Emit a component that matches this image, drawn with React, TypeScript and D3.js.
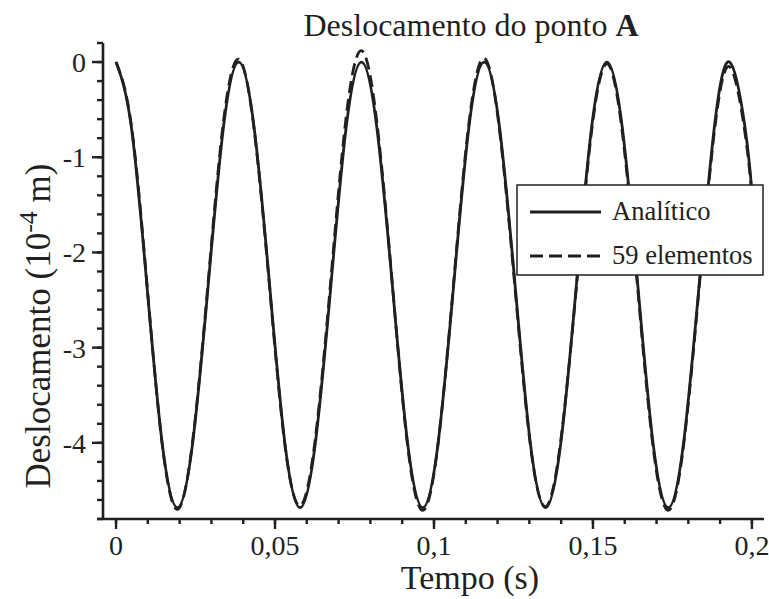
import React from "react";
import * as d3 from "d3";

// Time samples (s)
const tempo = [
  0, 0.0048, 0.0097, 0.0145, 0.0193, 0.0241, 0.029, 0.0338, 0.0386, 0.0434,
  0.0483, 0.0531, 0.0579, 0.0627, 0.0676, 0.0724, 0.0772, 0.082, 0.0869,
  0.0917, 0.0965, 0.1013, 0.1062, 0.111, 0.1158, 0.1206, 0.1255, 0.1303,
  0.1351, 0.1399, 0.1448, 0.1496, 0.1544, 0.1592, 0.1641, 0.1689, 0.1737,
  0.1785, 0.1834, 0.1882, 0.193, 0.1978, 0.2,
];

// Analytical displacement (1e-4 m)
const analitico = [
  0, -0.68, -2.34, -4.0, -4.68, -4.0, -2.34, -0.68, 0, -0.68, -2.34, -4.0,
  -4.68, -4.0, -2.34, -0.68, 0, -0.68, -2.34, -4.0, -4.68, -4.0, -2.34, -0.68,
  0, -0.68, -2.34, -4.0, -4.68, -4.0, -2.34, -0.68, 0, -0.68, -2.34, -4.0,
  -4.68, -4.0, -2.34, -0.68, 0, -0.68, -1.36,
];

// Finite element solution, 59 elements (1e-4 m)
const elementos59 = [
  0, -0.66, -2.32, -4.01, -4.7, -3.98, -2.3, -0.62, 0.03, -0.7, -2.37, -4.02,
  -4.66, -3.95, -2.27, -0.57, 0.12, -0.62, -2.33, -4.03, -4.71, -4.01, -2.31,
  -0.64, 0.04, -0.71, -2.38, -4.02, -4.67, -3.97, -2.36, -0.72, -0.02, -0.73,
  -2.39, -4.04, -4.71, -4.03, -2.37, -0.73, -0.05, -0.74, -1.4,
];

const xMajor = [0, 0.05, 0.1, 0.15, 0.2];
const xMinor = d3.range(0, 21).map((i) => i / 100);
const yMajor = [0, -1, -2, -3, -4];
const yMinor = d3.range(-24, 2).map((i) => i / 5);

const legendLabels = ["Analítico", "59 elementos"];

const W = 769;
const H = 599;
const INK = "#231f20";
const FONT = "'Liberation Serif', 'Times New Roman', serif";

const ptLocale = d3.formatLocale({
  decimal: ",",
  thousands: ".",
  grouping: [3],
  currency: ["", ""],
  minus: "-",
});
const fmtX = ptLocale.format(".2~f");
const fmtY = ptLocale.format("d");

export default function App() {
  const x = d3.scaleLinear().domain([-0.0041, 0.2038]).range([103, 764]);
  const y = d3.scaleLinear().domain([-4.8, 0.2]).range([519, 43]);

  const line = d3
    .line<number>()
    .x((_, i) => x(tempo[i]))
    .y((d) => y(d))
    .curve(d3.curveNatural);

  const [x0, x1] = x.range();
  const [yb, yt] = y.range();

  const legX = 517;
  const legY = 185;
  const legW = 246;
  const legH = 90;
  const rows = [212, 256];

  return (
    <div style={{ position: "absolute", left: 0, top: 0 }}>
      <svg width={W} height={H} style={{ display: "block", background: "#fff" }} fontFamily={FONT}>
        <rect width={W} height={H} fill="#fff" />

        {/* curves */}
        <path d={line(analitico) ?? ""} fill="none" stroke={INK} strokeWidth={2.8} strokeLinejoin="round" />
        <path
          d={line(elementos59) ?? ""}
          fill="none"
          stroke={INK}
          strokeWidth={2.8}
          strokeDasharray="12,6"
          strokeLinejoin="round"
        />

        {/* y axis */}
        <line x1={x0} x2={x0} y1={yb} y2={yt} stroke={INK} strokeWidth={2.6} />
        {yMinor.map((v) => (
          <line key={"ym" + v} x1={x0 - 6} x2={x0} y1={y(v)} y2={y(v)} stroke={INK} strokeWidth={2.4} />
        ))}
        {yMajor.map((v) => (
          <g key={"yM" + v}>
            <line x1={x0 - 11} x2={x0} y1={y(v)} y2={y(v)} stroke={INK} strokeWidth={2.4} />
            <text x={86} y={y(v) + 10} textAnchor="end" fontSize={28} fill={INK}>
              {fmtY(v)}
            </text>
          </g>
        ))}

        {/* x axis */}
        <line x1={x0 - 6} x2={x1} y1={yb} y2={yb} stroke={INK} strokeWidth={2.6} />
        {xMinor.map((v) => (
          <line key={"xm" + v} x1={x(v)} x2={x(v)} y1={yb} y2={yb + 5} stroke={INK} strokeWidth={2.4} />
        ))}
        {xMajor.map((v) => (
          <g key={"xM" + v}>
            <line x1={x(v)} x2={x(v)} y1={yb} y2={yb + 10} stroke={INK} strokeWidth={2.4} />
            <text x={x(v)} y={555} textAnchor="middle" fontSize={28} fill={INK}>
              {fmtX(v)}
            </text>
          </g>
        ))}

        {/* titles */}
        <text x={471} y={36} textAnchor="middle" fontSize={32} fill={INK}>
          Deslocamento do ponto <tspan fontWeight="bold">A</tspan>
        </text>
        <text x={470} y={589} textAnchor="middle" fontSize={34} fill={INK}>
          Tempo (s)
        </text>
        <text transform="translate(50,326) rotate(-90)" textAnchor="middle" fontSize={35} fill={INK}>
          Deslocamento (10
          <tspan dy={-13} fontSize={26}>
            -4
          </tspan>
          <tspan dy={13}> m)</tspan>
        </text>

        {/* legend */}
        <rect x={legX} y={legY} width={legW} height={legH} fill="#fff" stroke={INK} strokeWidth={1.5} />
        {legendLabels.map((lab, i) => (
          <g key={lab}>
            <line
              x1={530}
              x2={601}
              y1={rows[i]}
              y2={rows[i]}
              stroke={INK}
              strokeWidth={2.8}
              strokeDasharray={i === 1 ? "13,6" : undefined}
            />
            <text x={612} y={rows[i] + 8} fontSize={26.5} fill={INK}>
              {lab}
            </text>
          </g>
        ))}
      </svg>
    </div>
  );
}
